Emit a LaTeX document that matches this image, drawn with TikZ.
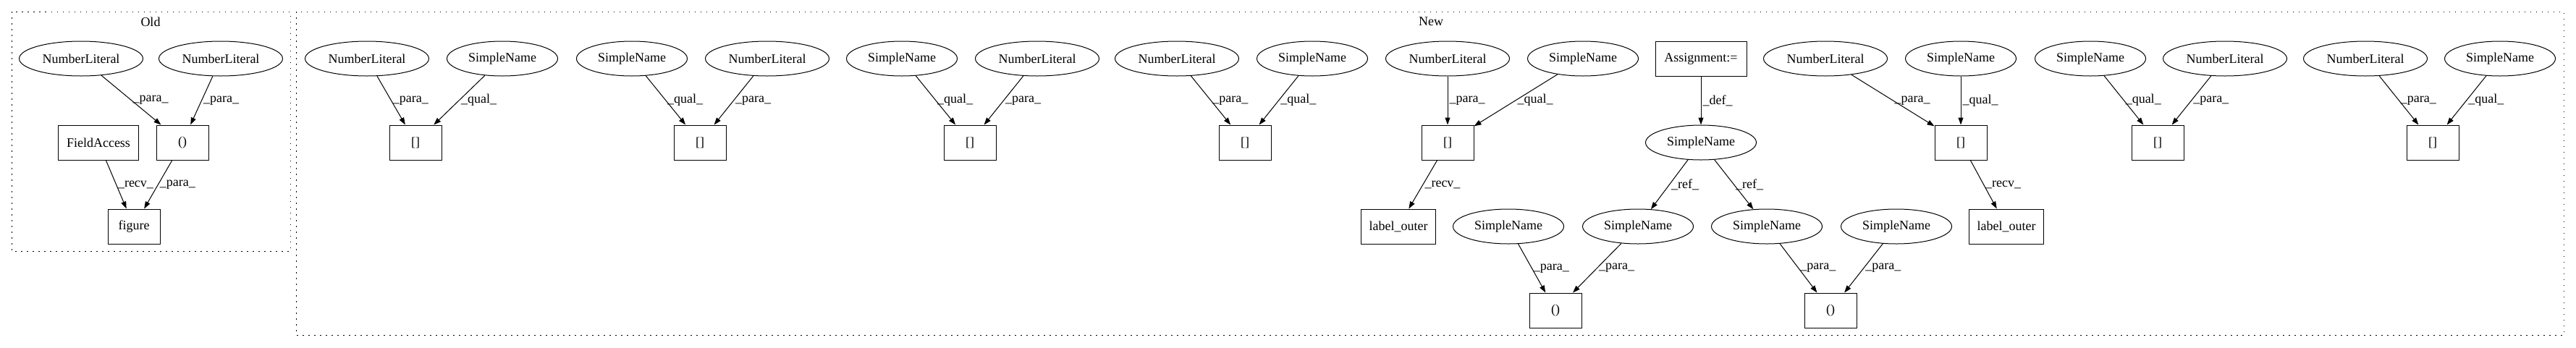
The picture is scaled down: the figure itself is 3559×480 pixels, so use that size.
\documentclass[tikz,border=0pt]{standalone}
\usepackage{fontspec}
\setmainfont{Liberation Serif}
\usetikzlibrary{shapes.geometric,arrows.meta}
\begin{document}
\begin{tikzpicture}[x=1pt,y=-1pt,
  every node/.style={font=\fontsize{18}{21}\selectfont},
  ell/.style={draw, ellipse, line width=1pt, inner sep=0pt, minimum height=48pt},
  nl/.style={ell, minimum width=171pt},
  sn/.style={ell, minimum width=153pt},
  box/.style={draw, rectangle, line width=1pt, inner sep=0pt, minimum height=48pt, minimum width=72pt},
  conn/.style={line width=1pt, -{Triangle[length=10pt,width=7pt]}},
  lbl/.style={midway, anchor=west, inner sep=2pt, draw=none},
  cluster/.style={draw, line width=1pt, dash pattern=on 1.5pt off 6.5pt}
]
\useasboundingbox (0,0) rectangle (3559,480);
% clusters
\draw[cluster] (16,16) rectangle (401,347);
\draw[cluster] (409,16) rectangle (3542,463);
\node (tOld) at (208,30) {Old};
\node (tNew) at (1977,30) {New};

% Old
\node[nl] (o1) at (112,81) {NumberLiteral};
\node[nl] (o2) at (305,81) {NumberLiteral};
\node[box, minimum width=111pt] (ofa) at (136,197) {FieldAccess};
\node[box] (op) at (252,197) {()};
\node[box] (ofig) at (185,313) {figure};
\draw[conn] (o1) -- node[lbl]{\_para\_} (op);
\draw[conn] (o2) -- node[lbl]{\_para\_} (op);
\draw[conn] (ofa) -- node[lbl]{\_recv\_} (ofig);
\draw[conn] (op) -- node[lbl]{\_para\_} (ofig);

% New
\node[nl] (na) at (507,81) {NumberLiteral};
\node[sn] (sa) at (694,81) {SimpleName};
\node[box] (ba) at (574,197) {[]};
\draw[conn] (na) -- node[lbl]{\_para\_} (ba);
\draw[conn] (sa) -- node[lbl]{\_qual\_} (ba);

\node[sn] (sb) at (873,81) {SimpleName};
\node[nl] (nb) at (1060,81) {NumberLiteral};
\node[box] (bb) at (967,197) {[]};
\draw[conn] (sb) -- node[lbl]{\_qual\_} (bb);
\draw[conn] (nb) -- node[lbl]{\_para\_} (bb);

\node[sn] (sc) at (1246,81) {SimpleName};
\node[nl] (nc) at (1433,81) {NumberLiteral};
\node[box] (bc) at (1340,197) {[]};
\draw[conn] (sc) -- node[lbl]{\_qual\_} (bc);
\draw[conn] (nc) -- node[lbl]{\_para\_} (bc);

\node[nl] (nd) at (1626,81) {NumberLiteral};
\node[sn] (sd) at (1813,81) {SimpleName};
\node[box] (bd) at (1720,197) {[]};
\draw[conn] (nd) -- node[lbl]{\_para\_} (bd);
\draw[conn] (sd) -- node[lbl]{\_qual\_} (bd);

\node[nl] (ne) at (2000,81) {NumberLiteral};
\node[sn] (se) at (2187,81) {SimpleName};
\node[box] (be) at (2000,197) {[]};
\node[box, minimum width=103pt] (le) at (1932,313) {label\_outer};
\draw[conn] (ne) -- node[lbl]{\_para\_} (be);
\draw[conn] (se) -- node[lbl]{\_qual\_} (be);
\draw[conn] (be) -- node[lbl]{\_recv\_} (le);

\node[box, minimum width=126pt] (asg) at (2350,81) {Assignment:=};
\node[sn] (sf) at (2350,197) {SimpleName};
\node[sn] (sg) at (2084,313) {SimpleName};
\node[sn] (sh) at (2263,313) {SimpleName};
\node[sn] (si) at (2441,313) {SimpleName};
\node[sn] (sj) at (2620,313) {SimpleName};
\node[box] (p1) at (2149,429) {()};
\node[box] (p2) at (2529,429) {()};
\draw[conn] (asg) -- node[lbl]{\_def\_} (sf);
\draw[conn] (sf) -- node[lbl]{\_ref\_} (sh);
\draw[conn] (sf) -- node[lbl]{\_ref\_} (si);
\draw[conn] (sg) -- node[lbl]{\_para\_} (p1);
\draw[conn] (sh) -- node[lbl]{\_para\_} (p1);
\draw[conn] (si) -- node[lbl]{\_para\_} (p2);
\draw[conn] (sj) -- node[lbl]{\_para\_} (p2);

\node[nl] (nf) at (2522,81) {NumberLiteral};
\node[sn] (sf2) at (2709,81) {SimpleName};
\node[box] (bf) at (2709,197) {[]};
\node[box, minimum width=103pt] (lf) at (2772,313) {label\_outer};
\draw[conn] (nf) -- node[lbl]{\_para\_} (bf);
\draw[conn] (sf2) -- node[lbl]{\_qual\_} (bf);
\draw[conn] (bf) -- node[lbl]{\_recv\_} (lf);

\node[sn] (sk) at (2888,81) {SimpleName};
\node[nl] (ng) at (3074,81) {NumberLiteral};
\node[box] (bg) at (2981,197) {[]};
\draw[conn] (sk) -- node[lbl]{\_qual\_} (bg);
\draw[conn] (ng) -- node[lbl]{\_para\_} (bg);

\node[nl] (nh) at (3268,81) {NumberLiteral};
\node[sn] (sl) at (3454,81) {SimpleName};
\node[box] (bh) at (3361,197) {[]};
\draw[conn] (nh) -- node[lbl]{\_para\_} (bh);
\draw[conn] (sl) -- node[lbl]{\_qual\_} (bh);
\end{tikzpicture}
\end{document}
